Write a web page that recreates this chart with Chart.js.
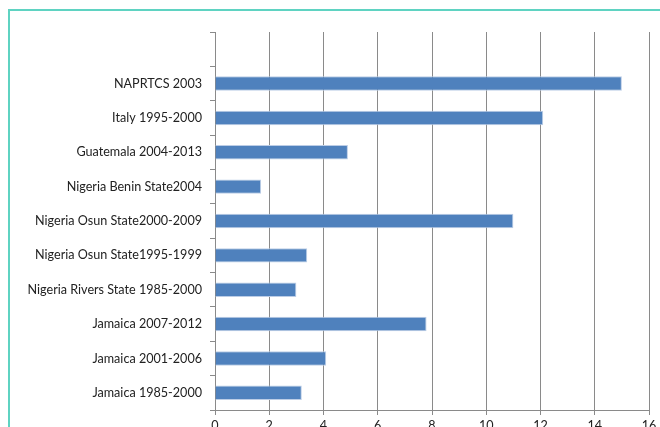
<!DOCTYPE html>
<html>
<head>
<meta charset="utf-8">
<script src="https://cdn.jsdelivr.net/npm/chart.js@4"></script>
<style>
  html, body { margin: 0; padding: 0; background: #fff; overflow: hidden; }
  #frame {
    position: absolute; left: 8px; top: 9px; width: 660px; height: 430px;
    border-top: 2px solid #5fd3c2; border-left: 2px solid #5fd3c2;
  }
  #wrap { position: absolute; left: 0; top: 0; width: 660px; height: 440px; }
</style>
</head>
<body>
<div id="frame"></div>
<div id="wrap"><canvas id="chart"></canvas></div>
<script>
// categories, top to bottom (first slot is left empty like the original)
const categories = [
  "",
  "NAPRTCS 2003",
  "Italy 1995-2000",
  "Guatemala 2004-2013",
  "Nigeria Benin State2004",
  "Nigeria Osun State2000-2009",
  "Nigeria Osun State1995-1999",
  "Nigeria Rivers State 1985-2000",
  "Jamaica 2007-2012",
  "Jamaica 2001-2006",
  "Jamaica 1985-2000"
];
const values = [null, 15, 12.1, 4.9, 1.7, 11, 3.4, 3.0, 7.8, 4.1, 3.2];
const xTicks = [0, 2, 4, 6, 8, 10, 12, 14, 16];

const gridColor = "#8a8a8a";
const font = { family: "Lato, 'Open Sans', sans-serif", size: 12.6 };

new Chart(document.getElementById("chart"), {
  type: "bar",
  data: {
    labels: categories,
    datasets: [{
      data: values,
      backgroundColor: "#4f81bd",
      borderColor: "#bccde6",
      borderWidth: 1,
      barPercentage: 0.42,
      categoryPercentage: 1
    }]
  },
  options: {
    indexAxis: "y",
    responsive: true,
    maintainAspectRatio: false,
    animation: false,
    layout: { padding: { top: 32, right: 11, left: 0, bottom: 0 } },
    plugins: { legend: { display: false }, tooltip: { enabled: false } },
    scales: {
      x: {
        min: xTicks[0],
        max: xTicks[xTicks.length - 1],
        afterBuildTicks: (s) => { s.ticks = xTicks.map(v => ({ value: v })); },
        grid: { color: gridColor, tickLength: 5, tickColor: gridColor },
        border: { color: gridColor },
        ticks: { font, color: "#222", padding: 3 },
        afterFit: (s) => { s.height = 30; }
      },
      y: {
        grid: { offset: true, drawOnChartArea: false, tickLength: 5, color: gridColor },
        border: { color: gridColor },
        ticks: { font, color: "#222", padding: 8, autoSkip: false },
        afterFit: (s) => { s.width = 215; }
      }
    }
  }
});
</script>
</body>
</html>
